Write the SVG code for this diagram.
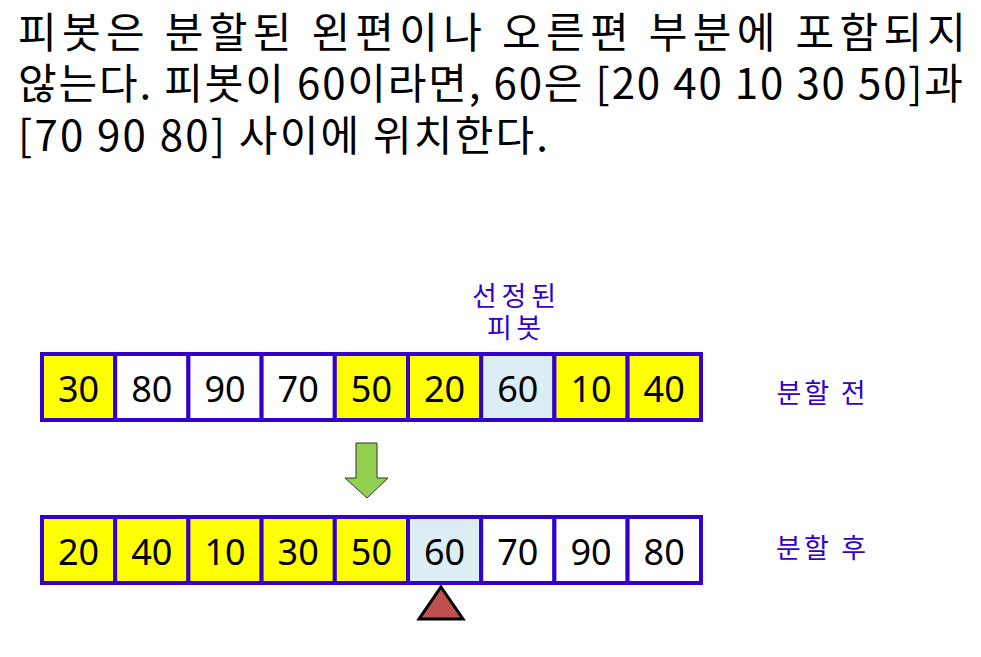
<svg xmlns="http://www.w3.org/2000/svg" width="981" height="657" viewBox="0 0 981 657">
<style>
.t{font-family:"Noto Sans CJK KR","Noto Sans",sans-serif;font-size:42px;fill:#000}
.n{font-family:"Noto Sans","Noto Sans CJK KR",sans-serif;font-size:36px;fill:#000;text-anchor:middle}
.l{font-family:"Noto Sans CJK KR",sans-serif;font-size:27px;fill:#3300CC;text-anchor:middle}
.c{stroke:#3300CC;stroke-width:4}
.y{fill:#FFFF00}.w{fill:#FFFFFF}.b{fill:#DAEEF3}
</style>
<rect width="981" height="657" fill="#fff"/>
<g id="title">
<text class="t" x="18" y="48" textLength="948" lengthAdjust="spacing">피봇은 분할된 왼편이나 오른편 부분에 포함되지</text>
<text class="t" x="18" y="99" textLength="945" lengthAdjust="spacing">않는다. 피봇이 60이라면, 60은 [20 40 10 30 50]과</text>
<text class="t" x="18" y="151" textLength="530" lengthAdjust="spacing">[70 90 80] 사이에 위치한다.</text>
</g>
<g id="pivot-label">
<text class="l" x="514" y="306" textLength="84" lengthAdjust="spacing">선정된</text>
<text class="l" x="514" y="338" textLength="54" lengthAdjust="spacing">피봇</text>
</g>
<g id="before">
<rect class="c y" x="42" y="354" width="73.2" height="66"/>
<rect class="c w" x="115.2" y="354" width="73.2" height="66"/>
<rect class="c w" x="188.4" y="354" width="73.2" height="66"/>
<rect class="c w" x="261.6" y="354" width="73.2" height="66"/>
<rect class="c y" x="334.8" y="354" width="73.2" height="66"/>
<rect class="c y" x="408" y="354" width="73.2" height="66"/>
<rect class="c b" x="481.2" y="354" width="73.2" height="66"/>
<rect class="c y" x="554.4" y="354" width="73.2" height="66"/>
<rect class="c y" x="627.6" y="354" width="73.4" height="66"/>
<text class="n" x="78.6" y="402">30</text>
<text class="n" x="151.8" y="402">80</text>
<text class="n" x="225" y="402">90</text>
<text class="n" x="298.2" y="402">70</text>
<text class="n" x="371.4" y="402">50</text>
<text class="n" x="444.6" y="402">20</text>
<text class="n" x="517.8" y="402">60</text>
<text class="n" x="591" y="402">10</text>
<text class="n" x="664.2" y="402">40</text>
</g>
<g id="after">
<rect class="c y" x="42" y="517" width="73.2" height="66"/>
<rect class="c y" x="115.2" y="517" width="73.2" height="66"/>
<rect class="c y" x="188.4" y="517" width="73.2" height="66"/>
<rect class="c y" x="261.6" y="517" width="73.2" height="66"/>
<rect class="c y" x="334.8" y="517" width="73.2" height="66"/>
<rect class="c b" x="408" y="517" width="73.2" height="66"/>
<rect class="c w" x="481.2" y="517" width="73.2" height="66"/>
<rect class="c w" x="554.4" y="517" width="73.2" height="66"/>
<rect class="c w" x="627.6" y="517" width="73.4" height="66"/>
<text class="n" x="78.6" y="565">20</text>
<text class="n" x="151.8" y="565">40</text>
<text class="n" x="225" y="565">10</text>
<text class="n" x="298.2" y="565">30</text>
<text class="n" x="371.4" y="565">50</text>
<text class="n" x="444.6" y="565">60</text>
<text class="n" x="517.8" y="565">70</text>
<text class="n" x="591" y="565">90</text>
<text class="n" x="664.2" y="565">80</text>
</g>
<g id="label-before"><text class="l" x="821" y="403" textLength="89" lengthAdjust="spacing">분할 전</text></g>
<g id="label-after"><text class="l" x="821" y="558" textLength="90" lengthAdjust="spacing">분할 후</text></g>
<g id="connectors">
<polygon points="356,443 377,443 377,478 388,478 367,498 345,478 356,478" fill="#92D050" stroke="#333" stroke-width="1"/>
<polygon points="441,587 463,619 419,619" fill="#C0504D" stroke="#000" stroke-width="3"/>
</g>
</svg>
